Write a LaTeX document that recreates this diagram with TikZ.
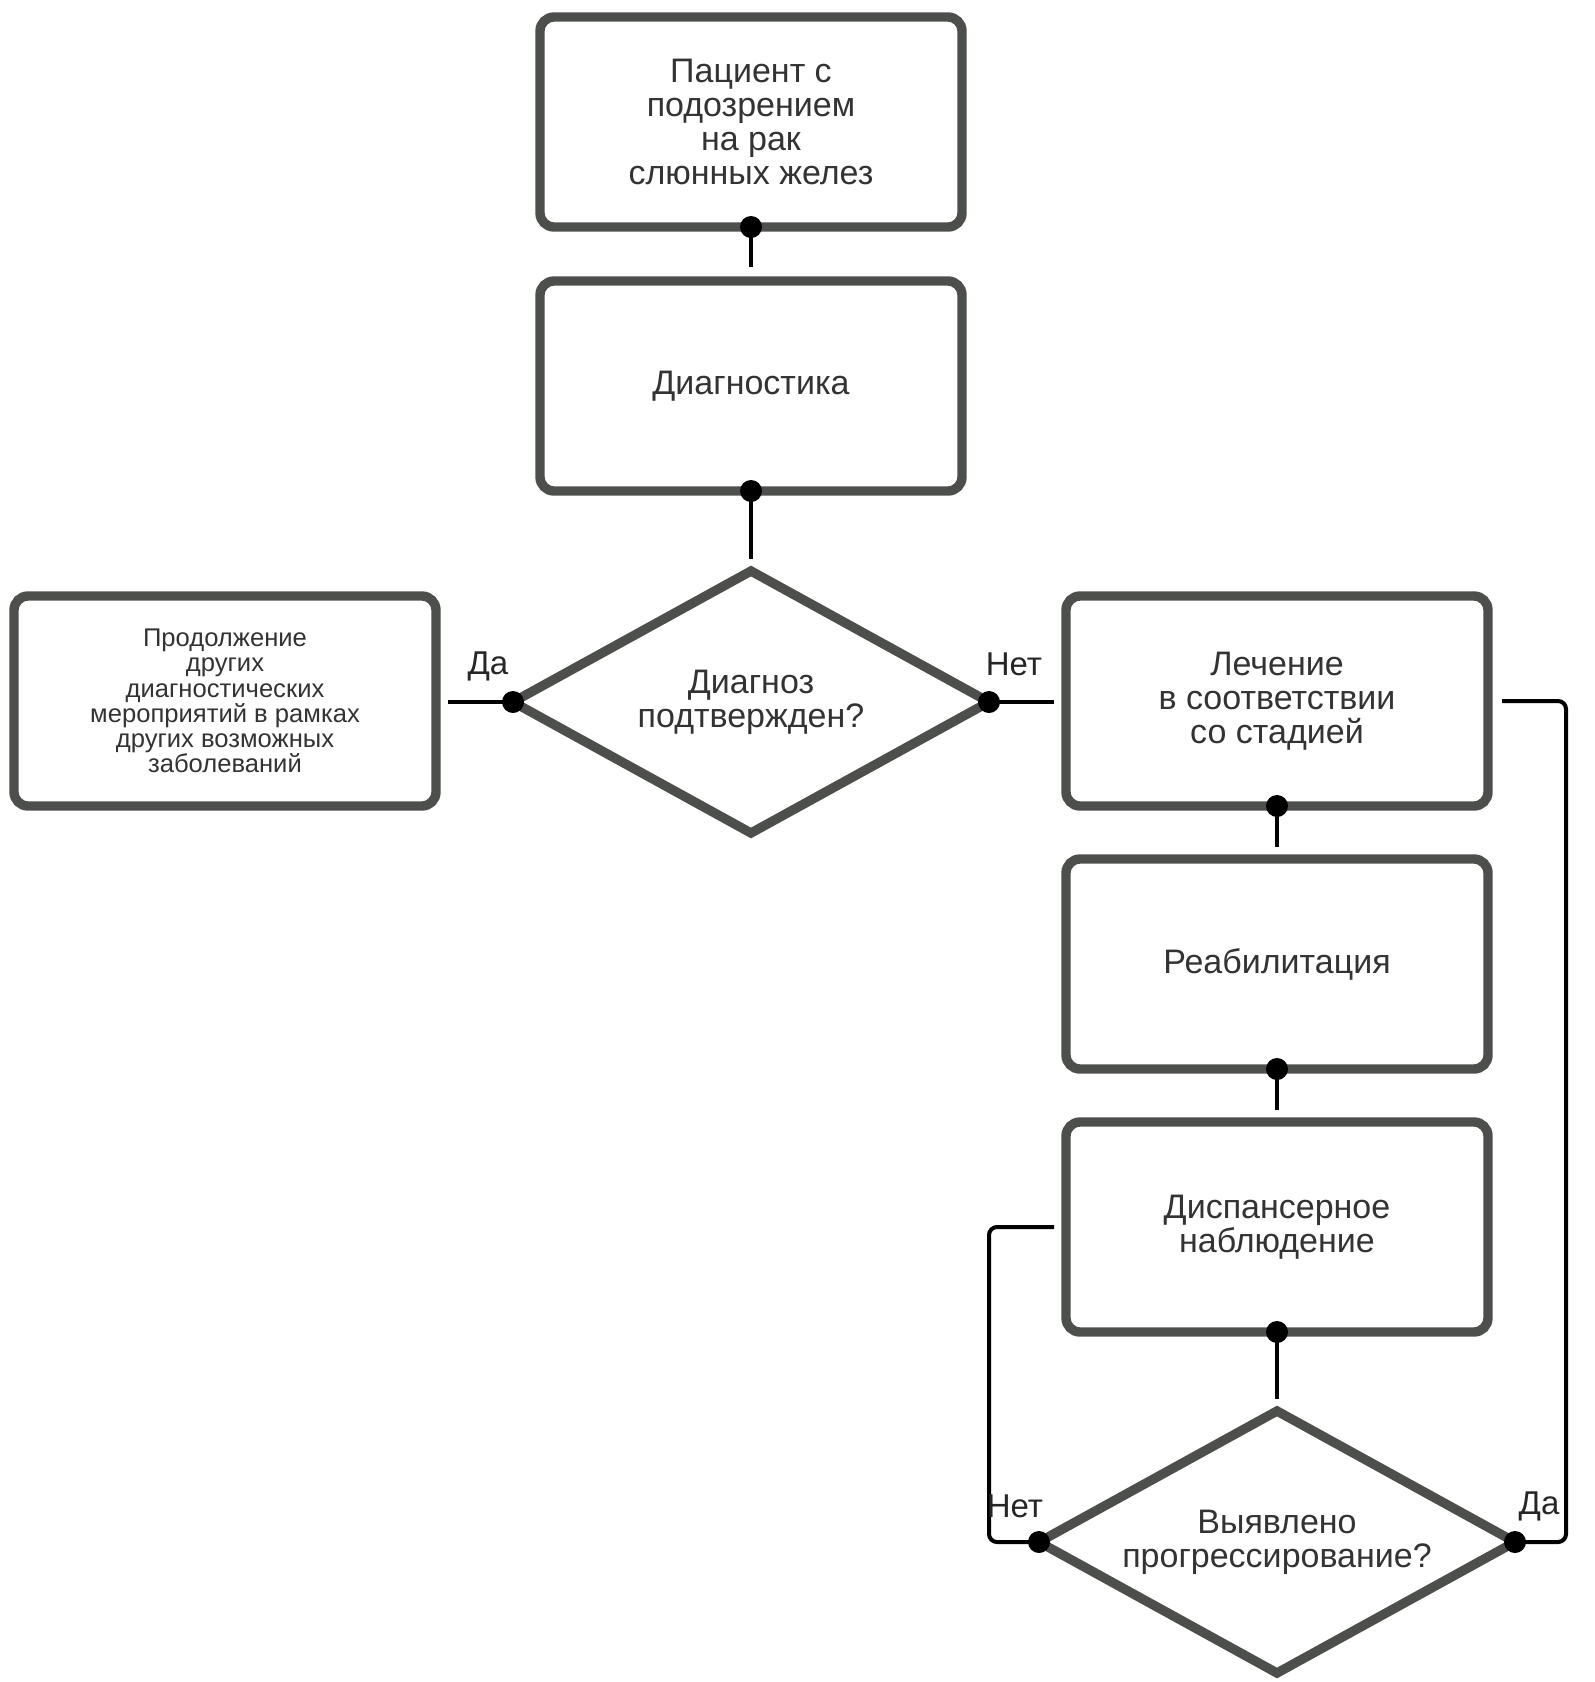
\documentclass[tikz,border=0pt]{standalone}
\usepackage{fontspec}
\setmainfont{Liberation Sans}
\usetikzlibrary{shapes.geometric}
\definecolor{boxc}{RGB}{77,79,77}
\definecolor{txtc}{RGB}{51,51,51}
\begin{document}
\begin{tikzpicture}[x=0.5pt,y=-0.5pt,
  box/.style={draw=boxc, line width=4.7pt, rounded corners=7pt, fill=white,
    minimum width=211pt, minimum height=105pt, inner sep=0pt, outer sep=0pt,
    align=center, text=txtc, font=\fontsize{17pt}{17pt}\selectfont},
  smallbox/.style={box, font=\fontsize{12.8pt}{12.6pt}\selectfont},
  dia/.style={diamond, draw=boxc, line width=4.7pt, fill=white,
    minimum width=238pt, minimum height=131pt, aspect=1.82, inner sep=0pt,
    outer sep=0pt, align=center, text=txtc, font=\fontsize{17pt}{17pt}\selectfont},
  conn/.style={draw=black, line width=2pt},
  lbl/.style={text=black!85, font=\fontsize{16.5pt}{17pt}\selectfont, inner sep=0pt}
]
\useasboundingbox[fill=white] (0,0) rectangle (1595,1682);

\node[box] (p) at (751,122) {Пациент с\\подозрением\\на рак\\слюнных желез};
\node[box] (diag) at (751,386) {Диагностика};
\node[dia] (d1) at (751,702) {Диагноз\\подтвержден?};
\node[smallbox] (alt) at (225,701) {Продолжение\\других\\диагностических\\мероприятий в рамках\\других возможных\\заболеваний};
\node[box] (lech) at (1277,701) {Лечение\\в соответствии\\со стадией};
\node[box] (reab) at (1277,964) {Реабилитация};
\node[box] (disp) at (1277,1227) {Диспансерное\\наблюдение};
\node[dia] (d2) at (1277,1542) {Выявлено\\прогрессирование?};

\coordinate (rx) at (1566,0);
\coordinate (lx) at (989,0);

\draw[conn, shorten >=7pt] (p.south) -- (diag.north);
\draw[conn, shorten >=6pt] (diag.south) -- (d1.north);
\draw[conn, shorten >=6pt] (d1.west) -- (d1.west -| alt.east);
\draw[conn, shorten >=6pt] (d1.east) -- (d1.east -| lech.west);
\draw[conn, shorten >=6pt] (lech.south) -- (reab.north);
\draw[conn, shorten >=6pt] (reab.south) -- (disp.north);
\draw[conn, shorten >=6pt] (disp.south) -- (d2.north);
\draw[conn, rounded corners=4pt, shorten <=7pt] (lech.east) -| (rx |- d2.east) -- (d2.east);
\draw[conn, rounded corners=4pt, shorten <=6pt] (disp.west) -| (lx |- d2.west) -- (d2.west);

\foreach \a in {p.south, diag.south, d1.west, d1.east, lech.south, reab.south, disp.south, d2.west, d2.east}
  \fill[black] (\a) circle (5.5pt);

\node[lbl] (l1) at (488,666) {Да};
\node[lbl] (l2) at (1014,664) {Нет};
\node[lbl] (l3) at (1015,1506) {Нет};
\node[lbl] (l4) at (1539,1506) {Да};
\end{tikzpicture}
\end{document}
